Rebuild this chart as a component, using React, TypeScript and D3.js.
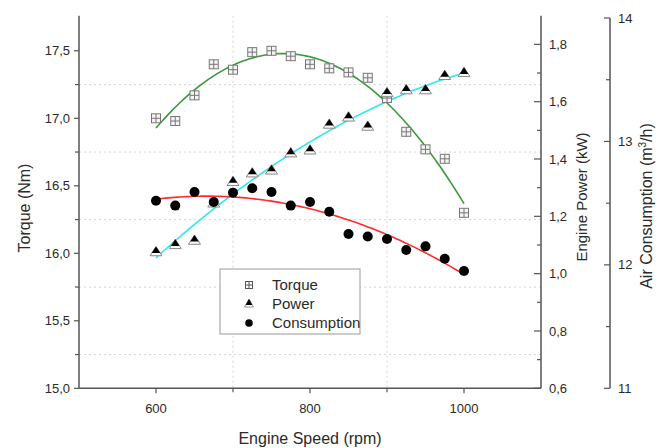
import React from "react";
import * as d3 from "d3";

// Engine speed (rpm)
const speeds = [600, 625, 650, 675, 700, 725, 750, 775, 800, 825, 850, 875, 900, 925, 950, 975, 1000];
// Torque (Nm)
const torque = [17.0, 16.98, 17.17, 17.4, 17.36, 17.49, 17.5, 17.46, 17.4, 17.37, 17.34, 17.3, 17.15, 16.9, 16.77, 16.7, 16.3];
// Engine power (kW)
const power = [1.075, 1.1, 1.115, 1.245, 1.32, 1.35, 1.36, 1.42, 1.43, 1.52, 1.545, 1.513, 1.63, 1.64, 1.64, 1.69, 1.7];
// Air consumption (m3/h)
const consumption = [12.52, 12.48, 12.59, 12.51, 12.585, 12.62, 12.59, 12.48, 12.51, 12.43, 12.25, 12.23, 12.21, 12.12, 12.15, 12.05, 11.95];

const xTicks = [600, 800, 1000];
const xMinor = [700, 900];
const torqueTicks = [15.0, 15.5, 16.0, 16.5, 17.0, 17.5];
const torqueMinor = [15.25, 15.75, 16.25, 16.75, 17.25];
const powerTicks = [0.6, 0.8, 1.0, 1.2, 1.4, 1.6, 1.8];
const powerMinor = [0.7, 0.9, 1.1, 1.3, 1.5, 1.7];
const airTicks = [11, 12, 13, 14];
const airMinor = [11.5, 12.5, 13.5];

const legendItems = ["Torque", "Power", "Consumption"];

const FONT = "'Liberation Sans', Arial, sans-serif";
const comma = (v: number, d: number) => v.toFixed(d).replace(".", ",");

// Second-order least-squares polynomial fit
function quadFit(xs: number[], ys: number[]) {
  const c = 800, s = 100;
  const us = xs.map((x) => (x - c) / s);
  const S = [0, 0, 0, 0, 0];
  const T = [0, 0, 0];
  us.forEach((u, i) => {
    for (let k = 0; k < 5; k++) S[k] += Math.pow(u, k);
    for (let k = 0; k < 3; k++) T[k] += ys[i] * Math.pow(u, k);
  });
  const A = [
    [S[0], S[1], S[2], T[0]],
    [S[1], S[2], S[3], T[1]],
    [S[2], S[3], S[4], T[2]],
  ];
  for (let i = 0; i < 3; i++) {
    for (let j = i + 1; j < 3; j++) {
      const f = A[j][i] / A[i][i];
      for (let k = i; k < 4; k++) A[j][k] -= f * A[i][k];
    }
  }
  const b = [0, 0, 0];
  for (let i = 2; i >= 0; i--) {
    let v = A[i][3];
    for (let k = i + 1; k < 3; k++) v -= A[i][k] * b[k];
    b[i] = v / A[i][i];
  }
  return (x: number) => {
    const u = (x - c) / s;
    return b[0] + b[1] * u + b[2] * u * u;
  };
}

export default function App() {
  const W = 658, H = 448;
  const x = d3.scaleLinear().domain([500, 1100]).range([79, 541]);
  const yT = d3.scaleLinear().domain([15, 17.76]).range([388.3, 15.7]);
  const yP = d3.scaleLinear().domain([0.6, 1.9]).range([388.3, 15.7]);
  const yA = d3.scaleLinear().domain([11, 14]).range([388.3, 18]);

  const xL = x(500), xR = x(1100), yB = yT(15), yTop = yT(17.76);
  const xAir = 610;

  const fitX = d3.range(600, 1000.1, 4);
  const fT = quadFit(speeds, torque);
  const fP = quadFit(speeds, power);
  const fA = quadFit(speeds, consumption);
  const lineT = d3.line<number>().x((d) => x(d)).y((d) => yT(fT(d)))(fitX) || "";
  const lineP = d3.line<number>().x((d) => x(d)).y((d) => yP(fP(d)))(fitX) || "";
  const lineA = d3.line<number>().x((d) => x(d)).y((d) => yA(fA(d)))(fitX) || "";

  const axisColor = "#555";
  const textColor = "#2a2a2a";

  const squareMark = (cx: number, cy: number, h: number, key: string | number) => (
    <g key={key}>
      <rect x={cx - h} y={cy - h} width={2 * h} height={2 * h} fill="#f4f4f4" stroke="#777" strokeWidth={1} />
      <line x1={cx} x2={cx} y1={cy - h} y2={cy + h} stroke="#777" strokeWidth={1} />
      <line x1={cx - h} x2={cx + h} y1={cy} y2={cy} stroke="#777" strokeWidth={1} />
    </g>
  );
  const triMark = (cx: number, cy: number, s: number, key: string | number) => {
    const top = cy - s * 0.95;
    const bot = cy + s * 0.6;
    const inBot = bot - s * 0.45;
    const outer = `M${cx},${top}L${cx + s},${bot}L${cx - s},${bot}Z`;
    const k = (inBot - top) / (bot - top);
    const inner = `M${cx},${top}L${cx + s * k},${inBot}L${cx - s * k},${inBot}Z`;
    return (
      <g key={key}>
        <path d={outer} fill="#fafafa" stroke="#888" strokeWidth={1} />
        <path d={inner} fill="#000" />
      </g>
    );
  };

  return (
    <svg width={W} height={H} style={{ position: "absolute", left: 0, top: 0, background: "#fff" }} fontFamily={FONT}>
      <rect width={W} height={H} fill="#fff" />
      {/* dotted grid */}
      {torqueMinor.map((t) => (
        <line key={"gh" + t} x1={xL} x2={xR} y1={yT(t)} y2={yT(t)} stroke="#d4d4d4" strokeDasharray="2,3" strokeWidth={1} />
      ))}
      {xMinor.map((t) => (
        <line key={"gv" + t} x1={x(t)} x2={x(t)} y1={yTop} y2={yB} stroke="#d4d4d4" strokeDasharray="2,3" strokeWidth={1} />
      ))}

      {/* fitted curves */}
      <path d={lineT} fill="none" stroke="#3a9a3a" strokeWidth={1.6} />
      <path d={lineP} fill="none" stroke="#2ee8f0" strokeWidth={1.6} />
      <path d={lineA} fill="none" stroke="#ff2a2a" strokeWidth={1.6} />

      {/* markers */}
      {speeds.map((s, i) => squareMark(x(s), yT(torque[i]), 4.5, "t" + i))}
      {speeds.map((s, i) => triMark(x(s), yP(power[i]), 6, "p" + i))}
      {speeds.map((s, i) => (
        <circle key={"c" + i} cx={x(s)} cy={yA(consumption[i])} r={5} fill="#000" />
      ))}

      {/* axis frame */}
      <line x1={xL} x2={xL} y1={yTop} y2={yB} stroke={axisColor} strokeWidth={1.5} />
      <line x1={xL} x2={xR} y1={yB} y2={yB} stroke={axisColor} strokeWidth={1.5} />
      <line x1={xR} x2={xR} y1={yTop} y2={yB} stroke={axisColor} strokeWidth={1.5} />
      <line x1={xAir} x2={xAir} y1={yA(14)} y2={yB} stroke={axisColor} strokeWidth={1.5} />

      {/* left axis */}
      {torqueTicks.map((t) => (
        <g key={"lt" + t}>
          <line x1={xL - 5} x2={xL} y1={yT(t)} y2={yT(t)} stroke={axisColor} strokeWidth={1.2} />
          <text x={xL - 9} y={yT(t)} dy="0.35em" textAnchor="end" fontSize={13} fill={textColor}>
            {comma(t, 1)}
          </text>
        </g>
      ))}
      {torqueMinor.map((t) => (
        <line key={"lm" + t} x1={xL - 4} x2={xL} y1={yT(t)} y2={yT(t)} stroke={axisColor} strokeWidth={1.2} />
      ))}

      {/* bottom axis */}
      {xTicks.map((t) => (
        <g key={"bt" + t}>
          <line x1={x(t)} x2={x(t)} y1={yB} y2={yB + 5} stroke={axisColor} strokeWidth={1.2} />
          <text x={x(t)} y={yB + 20} textAnchor="middle" fontSize={13} fill={textColor} dy="0.35em">
            {t}
          </text>
        </g>
      ))}
      {xMinor.map((t) => (
        <line key={"bm" + t} x1={x(t)} x2={x(t)} y1={yB} y2={yB + 4} stroke={axisColor} strokeWidth={1.2} />
      ))}

      {/* power axis */}
      {powerTicks.map((t) => (
        <g key={"pt" + t}>
          <line x1={xR - 7} x2={xR} y1={yP(t)} y2={yP(t)} stroke={axisColor} strokeWidth={1.2} />
          <text x={xR + 8} y={yP(t)} dy="0.35em" textAnchor="start" fontSize={13} fill={textColor}>
            {comma(t, 1)}
          </text>
        </g>
      ))}
      {powerMinor.map((t) => (
        <line key={"pm" + t} x1={xR - 4} x2={xR} y1={yP(t)} y2={yP(t)} stroke={axisColor} strokeWidth={1.2} />
      ))}

      {/* air consumption axis */}
      {airTicks.map((t) => (
        <g key={"at" + t}>
          <line x1={xAir - 6} x2={xAir} y1={yA(t)} y2={yA(t)} stroke={axisColor} strokeWidth={1.2} />
          <text x={xAir + 8} y={yA(t)} dy="0.35em" textAnchor="start" fontSize={13} fill={textColor}>
            {t}
          </text>
        </g>
      ))}
      {airMinor.map((t) => (
        <line key={"am" + t} x1={xAir - 4} x2={xAir} y1={yA(t)} y2={yA(t)} stroke={axisColor} strokeWidth={1.2} />
      ))}

      {/* axis titles */}
      <text x={310} y={438} textAnchor="middle" fontSize={16} fill={textColor} dy="0.35em">
        Engine Speed (rpm)
      </text>
      <text transform={`translate(24,208) rotate(-90)`} textAnchor="middle" fontSize={16} fill={textColor} dy="0.35em">
        Torque (Nm)
      </text>
      <text transform={`translate(582,197) rotate(-90)`} textAnchor="middle" fontSize={15} fill={textColor} dy="0.35em">
        Engine Power (kW)
      </text>
      <text transform={`translate(646,206) rotate(-90)`} textAnchor="middle" fontSize={16} fill={textColor} dy="0.35em">
        Air Consumption (m<tspan dy="-6" fontSize={10}>3</tspan>
        <tspan dy="6">/h)</tspan>
      </text>

      {/* legend */}
      <rect x={220} y={269} width={140} height={65} fill="#fff" stroke="#999" strokeWidth={1} />
      {legendItems.map((name, i) => {
        const ly = 285 + i * 19;
        const lx = 249;
        let sym;
        if (i === 0) {
          sym = (
            <g>
              <rect x={lx - 3.5} y={ly - 3.5} width={7} height={7} fill="none" stroke="#555" strokeWidth={1} />
              <line x1={lx} x2={lx} y1={ly - 3.5} y2={ly + 3.5} stroke="#555" strokeWidth={1} />
              <line x1={lx - 3.5} x2={lx + 3.5} y1={ly} y2={ly} stroke="#555" strokeWidth={1} />
            </g>
          );
        } else if (i === 1) {
          sym = (
            <g>
              <path d={`M${lx},${ly - 5}L${lx + 4.5},${ly + 3}L${lx - 4.5},${ly + 3}Z`} fill="#fff" stroke="#777" strokeWidth={0.8} />
              <path d={`M${lx},${ly - 5}L${lx + 3.3},${ly + 1}L${lx - 3.3},${ly + 1}Z`} fill="#000" />
            </g>
          );
        } else {
          sym = <circle cx={lx} cy={ly} r={3.8} fill="#000" />;
        }
        return (
          <g key={name}>
            {sym}
            <text x={272} y={ly} dy="0.35em" fontSize={15} fill={textColor}>
              {name}
            </text>
          </g>
        );
      })}
    </svg>
  );
}
